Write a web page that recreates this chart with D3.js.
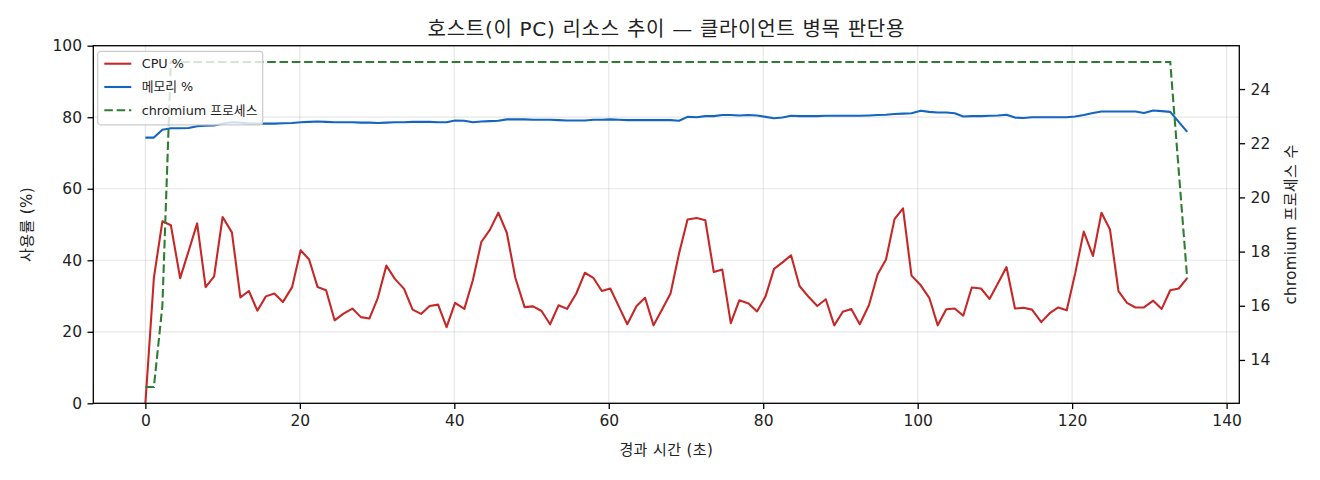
<!DOCTYPE html>
<html>
<head>
<meta charset="utf-8">
<script src="https://cdn.jsdelivr.net/npm/d3@7"></script>
<style>
  body { margin: 0; background: #ffffff; }
  text { font-family: "DejaVu Sans", "Noto Sans CJK KR", sans-serif; fill: #222; }
</style>
</head>
<body>
<div id="chart"></div>
<script>
// elapsed seconds of each sample
var times = [
  0.0, 1.1, 2.2, 3.3, 4.5, 5.6, 6.7, 7.8, 8.9, 10.0,
  11.2, 12.3, 13.4, 14.5, 15.6, 16.7, 17.8, 19.0, 20.1, 21.2,
  22.3, 23.4, 24.5, 25.6, 26.8, 27.9, 29.0, 30.1, 31.2, 32.3,
  33.5, 34.6, 35.7, 36.8, 37.9, 39.0, 40.1, 41.3, 42.4, 43.5,
  44.6, 45.7, 46.8, 47.9, 49.1, 50.2, 51.3, 52.4, 53.5, 54.6,
  55.8, 56.9, 58.0, 59.1, 60.2, 61.3, 62.4, 63.6, 64.7, 65.8,
  66.9, 68.0, 69.1, 70.2, 71.4, 72.5, 73.6, 74.7, 75.8, 76.9,
  78.1, 79.2, 80.3, 81.4, 82.5, 83.6, 84.7, 85.9, 87.0, 88.1,
  89.2, 90.3, 91.4, 92.5, 93.7, 94.8, 95.9, 97.0, 98.1, 99.2,
  100.4, 101.5, 102.6, 103.7, 104.8, 105.9, 107.0, 108.2, 109.3, 110.4,
  111.5, 112.6, 113.7, 114.8, 116.0, 117.1, 118.2, 119.3, 120.4, 121.5,
  122.7, 123.8, 124.9, 126.0, 127.1, 128.2, 129.3, 130.5, 131.6, 132.7,
  133.8, 134.9
];

var cpu = [
  0, 35.1, 50.9, 49.8, 35.0, 42.6, 50.3, 32.5, 35.5, 52.1,
  47.8, 29.6, 31.4, 25.9, 29.9, 30.7, 28.3, 32.5, 42.8, 40.2,
  32.5, 31.6, 23.2, 25.0, 26.5, 24.1, 23.7, 29.5, 38.5, 34.8,
  32.0, 26.2, 25.0, 27.2, 27.6, 21.3, 28.1, 26.4, 34.4, 45.1,
  48.5, 53.3, 47.7, 35.1, 26.9, 27.1, 25.8, 22.1, 27.4, 26.4,
  30.7, 36.5, 35.1, 31.4, 32.1, 27.1, 22.1, 27.2, 29.5, 21.8,
  26.2, 30.7, 41.9, 51.4, 51.8, 51.2, 36.7, 37.4, 22.4, 28.8,
  27.9, 25.7, 29.9, 37.6, 39.4, 41.4, 32.8, 29.7, 27.2, 29.1,
  21.8, 25.6, 26.4, 22.1, 27.5, 36.0, 40.2, 51.5, 54.5, 35.7,
  33.0, 29.5, 21.8, 26.3, 26.5, 24.5, 32.4, 32.1, 29.2, 33.6,
  38.1, 26.5, 26.7, 26.2, 22.7, 25.2, 26.8, 26.0, 36.4, 48.0,
  41.2, 53.3, 48.6, 31.4, 28.1, 26.8, 26.8, 28.7, 26.4, 31.6,
  32.1, 35.0
];

var mem = [
  74.3, 74.3, 76.5, 76.9, 76.9, 77.0, 77.5, 77.6, 77.7, 78.2,
  78.6, 78.5, 78.2, 78.2, 78.2, 78.2, 78.3, 78.4, 78.6, 78.7,
  78.8, 78.7, 78.6, 78.6, 78.6, 78.5, 78.5, 78.4, 78.5, 78.6,
  78.6, 78.7, 78.7, 78.7, 78.6, 78.6, 79.1, 79.0, 78.6, 78.8,
  78.9, 79.0, 79.4, 79.4, 79.4, 79.3, 79.3, 79.3, 79.2, 79.1,
  79.1, 79.1, 79.3, 79.3, 79.4, 79.3, 79.2, 79.2, 79.2, 79.2,
  79.2, 79.2, 79.0, 80.1, 80.0, 80.3, 80.3, 80.6, 80.6, 80.5,
  80.6, 80.5, 80.1, 79.7, 79.9, 80.4, 80.3, 80.3, 80.3, 80.4,
  80.4, 80.4, 80.4, 80.4, 80.5, 80.6, 80.7, 80.9, 81.0, 81.1,
  81.8, 81.5, 81.3, 81.3, 81.1, 80.2, 80.3, 80.3, 80.4, 80.5,
  80.7, 79.9, 79.8, 80.0, 80.0, 80.0, 80.0, 80.0, 80.2, 80.6,
  81.2, 81.6, 81.6, 81.6, 81.6, 81.6, 81.2, 81.9, 81.7, 81.5,
  78.7, 75.9
];

var procs = [
  13, 13, 16, 25, 25, 25, 25, 25, 25, 25,
  25, 25, 25, 25, 25, 25, 25, 25, 25, 25,
  25, 25, 25, 25, 25, 25, 25, 25, 25, 25,
  25, 25, 25, 25, 25, 25, 25, 25, 25, 25,
  25, 25, 25, 25, 25, 25, 25, 25, 25, 25,
  25, 25, 25, 25, 25, 25, 25, 25, 25, 25,
  25, 25, 25, 25, 25, 25, 25, 25, 25, 25,
  25, 25, 25, 25, 25, 25, 25, 25, 25, 25,
  25, 25, 25, 25, 25, 25, 25, 25, 25, 25,
  25, 25, 25, 25, 25, 25, 25, 25, 25, 25,
  25, 25, 25, 25, 25, 25, 25, 25, 25, 25,
  25, 25, 25, 25, 25, 25, 25, 25, 25, 25,
  21, 17
];

var xTicks = [0, 20, 40, 60, 80, 100, 120, 140];
var yTicks = [0, 20, 40, 60, 80, 100];
var y2Ticks = [14, 16, 18, 20, 22, 24];

var titleText = "호스트(이 PC) 리소스 추이 — 클라이언트 병목 판단용";
var xLabel = "경과 시간 (초)";
var yLabel = "사용률 (%)";
var y2Label = "chromium 프로세스 수";
var seriesNames = ["CPU %", "메모리 %", "chromium 프로세스"];
var seriesColors = ["#c62828", "#1565c0", "#2e7d32"];

var W = 1320, H = 480;
// plot box (window.top is read-only, so no plain "top" here)
var pL = 93.3, pR = 1239.3, pT = 45.7, pB = 403.3;

var svg = d3.select("#chart").append("svg")
  .attr("width", W).attr("height", H);
svg.append("rect").attr("width", W).attr("height", H).attr("fill", "#ffffff");

// matplotlib style 5% margins
var xmin = d3.min(times), xmax = d3.max(times);
var pad = (xmax - xmin) * 0.05;
var xScale = d3.scaleLinear().domain([xmin - pad, xmax + pad]).range([pL, pR]);
var yScale = d3.scaleLinear().domain([0, 100]).range([pB, pT]);
var pmin = d3.min(procs), pmax = d3.max(procs);
var ppad = (pmax - pmin) * 0.05;
var y2Scale = d3.scaleLinear().domain([pmin - ppad, pmax + ppad]).range([pB, pT]);

// grid
var grid = svg.append("g").attr("stroke", "#b0b0b0").attr("stroke-opacity", 0.3).attr("stroke-width", 1.2);
xTicks.forEach(function(t){
  grid.append("line").attr("x1", xScale(t)).attr("x2", xScale(t)).attr("y1", pT).attr("y2", pB);
});
yTicks.forEach(function(t){
  grid.append("line").attr("x1", pL).attr("x2", pR).attr("y1", yScale(t)).attr("y2", yScale(t));
});

svg.append("clipPath").attr("id", "plotclip")
  .append("rect").attr("x", pL).attr("y", pT).attr("width", pR - pL).attr("height", pB - pT);

var line = function(values, scale){
  return d3.line()
    .x(function(d, i){ return xScale(times[i]); })
    .y(function(d){ return scale(d); })(values);
};

var plot = svg.append("g").attr("clip-path", "url(#plotclip)");
plot.append("path").attr("d", line(cpu, yScale))
  .attr("fill", "none").attr("stroke", seriesColors[0]).attr("stroke-width", 2.1)
  .attr("stroke-linejoin", "round");
plot.append("path").attr("d", line(mem, yScale))
  .attr("fill", "none").attr("stroke", seriesColors[1]).attr("stroke-width", 2.1)
  .attr("stroke-linejoin", "round");

// legend belongs to the left axes, so the twin axes line is drawn over it
var lg = svg.append("g").attr("transform", "translate(97.7,51.3)");
lg.append("rect").attr("width", 165).attr("height", 73.5).attr("rx", 3)
  .attr("fill", "#ffffff").attr("fill-opacity", 0.8)
  .attr("stroke", "#cccccc").attr("stroke-width", 1.2);
seriesNames.forEach(function(name, i){
  var cy = 12.4 + i * 23.3;
  lg.append("line").attr("x1", 6.6).attr("x2", 33.6).attr("y1", cy).attr("y2", cy)
    .attr("stroke", seriesColors[i]).attr("stroke-width", 2.1)
    .attr("stroke-dasharray", i == 2 ? "8.6,3.7" : null);
  lg.append("text").attr("x", 44).attr("y", cy).attr("dy", "0.35em")
    .style("font-size", "12.8px").text(name);
});

plot.append("path").attr("d", line(procs, y2Scale))
  .attr("fill", "none").attr("stroke", seriesColors[2]).attr("stroke-width", 2.1)
  .attr("stroke-dasharray", "8.6,3.7");

// axes
var fmt = function(d){ return d; };
var xAxis = svg.append("g").attr("transform", "translate(0," + pB + ")")
  .call(d3.axisBottom(xScale).tickValues(xTicks).tickFormat(fmt).tickSize(5.8).tickPadding(5.5).tickSizeOuter(0));
var yAxis = svg.append("g").attr("transform", "translate(" + pL + ",0)")
  .call(d3.axisLeft(yScale).tickValues(yTicks).tickFormat(fmt).tickSize(5.8).tickPadding(5.5).tickSizeOuter(0));
var y2Axis = svg.append("g").attr("transform", "translate(" + pR + ",0)")
  .call(d3.axisRight(y2Scale).tickValues(y2Ticks).tickFormat(fmt).tickSize(5.8).tickPadding(5.5).tickSizeOuter(0));
[xAxis, yAxis, y2Axis].forEach(function(a){
  a.select(".domain").remove();
  a.selectAll(".tick line").attr("stroke", "#000").attr("stroke-width", 1.3);
  a.selectAll(".tick text").style("font-size", "15.5px")
    .style("font-family", "\"DejaVu Sans\", \"Noto Sans CJK KR\", sans-serif").attr("fill", "#222");
});

svg.append("rect").attr("x", pL).attr("y", pT).attr("width", pR - pL).attr("height", pB - pT)
  .attr("fill", "none").attr("stroke", "#000").attr("stroke-width", 1.3);

svg.append("text").attr("x", (pL + pR) / 2).attr("y", 35.5).attr("text-anchor", "middle")
  .style("font-size", "20px").style("letter-spacing", "0.7px").text(titleText);
svg.append("text").attr("x", (pL + pR) / 2).attr("y", 450).attr("dy", "0.35em").attr("text-anchor", "middle")
  .style("font-size", "15px").style("letter-spacing", "0.4px").text(xLabel);
svg.append("text").attr("transform", "translate(27," + (pT + pB) / 2 + ") rotate(-90)")
  .attr("dy", "0.35em").attr("text-anchor", "middle").style("font-size", "15px")
  .style("letter-spacing", "0.4px").text(yLabel);
svg.append("text").attr("transform", "translate(1291," + (pT + pB) / 2 + ") rotate(-90)")
  .attr("dy", "0.35em").attr("text-anchor", "middle").style("font-size", "15px")
  .style("letter-spacing", "0.4px").text(y2Label);
</script>
</body>
</html>
